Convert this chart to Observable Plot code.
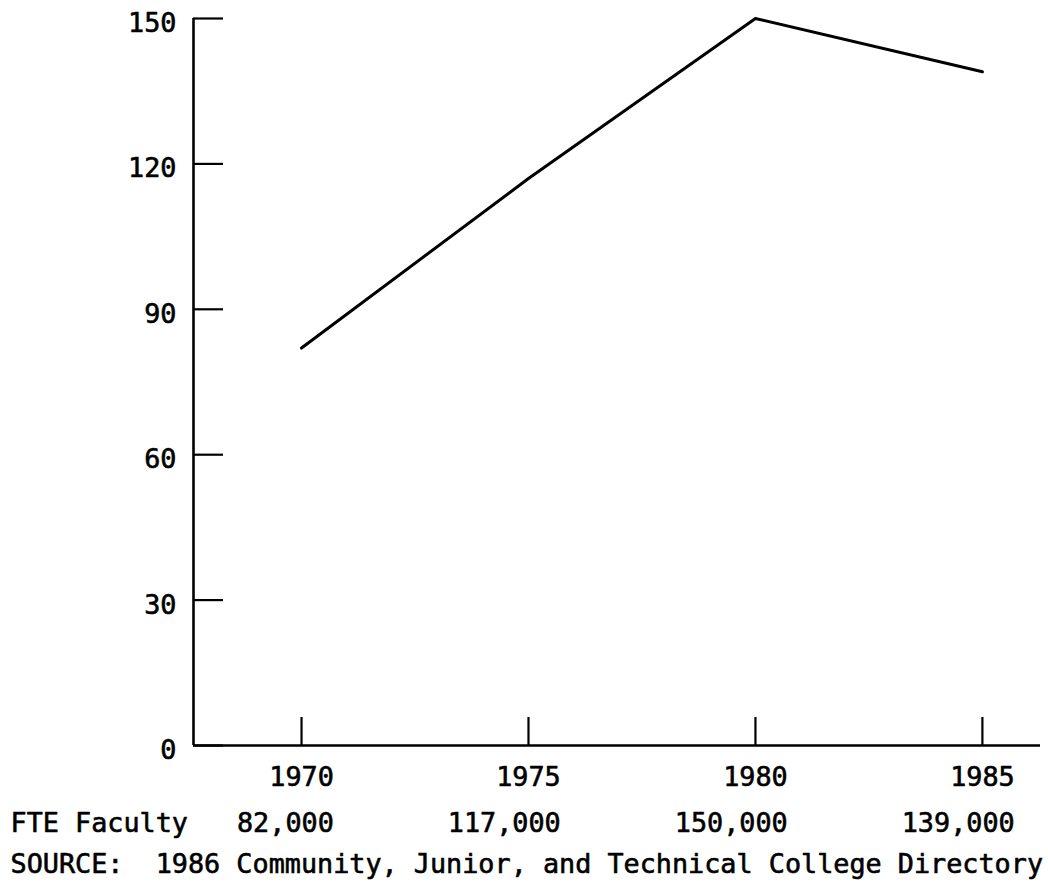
<!DOCTYPE html>
<html>
<head>
<meta charset="utf-8">
<script src="https://cdn.jsdelivr.net/npm/d3@7"></script>
<script src="https://cdn.jsdelivr.net/npm/@observablehq/plot@0.6"></script>
<style>
  html, body { margin: 0; padding: 0; background: #fff; }
  #chart svg { display: block; }
</style>
</head>
<body>
<div id="chart"></div>
<script>
const years = [1970, 1975, 1980, 1985];
const faculty = [82, 117, 150, 139]; // thousands
const facultyLabels = ["82,000", "117,000", "150,000", "139,000"];
const yTicks = [0, 30, 60, 90, 120, 150];
const rowLabel = "FTE Faculty";
const sourceText = "SOURCE:  1986 Community, Junior, and Technical College Directory";

const data = years.map((y, i) => ({year: y, value: faculty[i], label: facultyLabels[i]}));

const W = 1048, H = 890;
const mL = 193, mR = 8, mT = 18, mB = 145;
const font = "DejaVu Sans Mono, Liberation Mono, monospace";
const fs = 26.8;
const charW = 0.602 * fs;
const textStyle = {fontSize: fs, fill: "#000", stroke: "#000", strokeWidth: 0.6};

const chart = Plot.plot({
  width: W,
  height: H,
  marginLeft: mL,
  marginRight: mR,
  marginTop: mT,
  marginBottom: mB,
  style: {fontFamily: font, fontSize: fs + "px", color: "#000", background: "#fff", overflow: "visible"},
  x: {domain: [1967.62, 1986.28], axis: null},
  y: {domain: [0, 150], axis: null},
  marks: [
    // axis lines
    Plot.ruleX([1967.62], {stroke: "#000", strokeWidth: 2.6}),
    Plot.ruleY([0], {stroke: "#000", strokeWidth: 2.6}),
    // inward ticks
    Plot.tickY(yTicks, {y: d => d, stroke: "#000", strokeWidth: 2.2, insetRight: (W - mL - mR) - 30}),
    Plot.tickX(years, {x: d => d, stroke: "#000", strokeWidth: 2.2, insetTop: (H - mT - mB) - 28}),
    // y tick labels
    Plot.text(yTicks, {y: d => d, text: d => String(d), frameAnchor: "left", textAnchor: "end", dx: -17, dy: 5, ...textStyle}),
    // x tick labels
    Plot.text(years, {x: d => d, text: d => String(d), frameAnchor: "bottom", dy: 40, ...textStyle}),
    // data line
    Plot.line(data, {x: "year", y: "value", stroke: "#000", strokeWidth: 3}),
    // FTE row (right-aligned under the year labels)
    Plot.text(data, {x: "year", text: "label", frameAnchor: "bottom", textAnchor: "end", dx: 2 * charW, dy: 86, ...textStyle}),
    Plot.text([rowLabel], {text: d => d, frameAnchor: "bottom-left", dx: 10 - mL, dy: 86, textAnchor: "start", ...textStyle}),
    Plot.text([sourceText], {text: d => d, frameAnchor: "bottom-left", dx: 10 - mL, dy: 127, textAnchor: "start", ...textStyle})
  ]
});
document.getElementById("chart").appendChild(chart);
</script>
</body>
</html>
